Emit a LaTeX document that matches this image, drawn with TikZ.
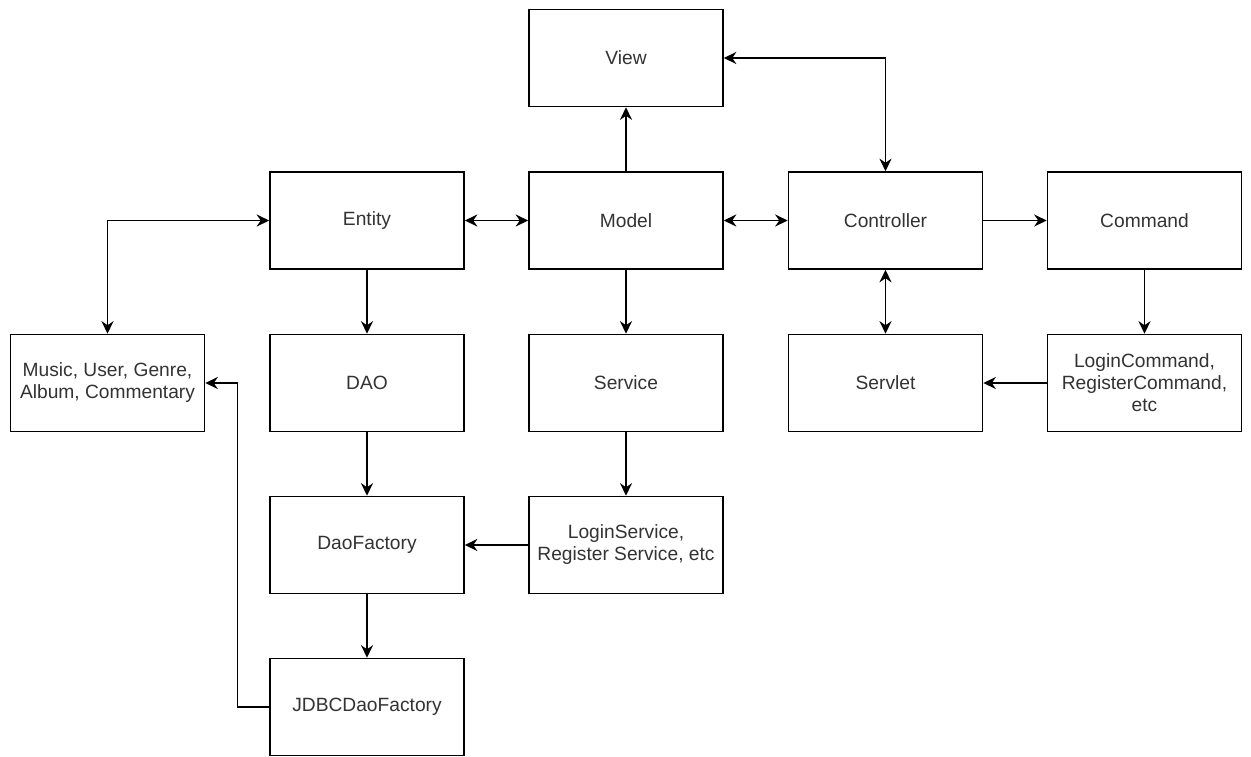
\documentclass[tikz,border=0pt]{standalone}
\usepackage{fontspec}
\setmainfont{Liberation Sans}
\usetikzlibrary{arrows.meta}
\begin{document}
\begin{tikzpicture}[x=1pt,y=-1pt,
  box/.style={draw=black, line width=1.6pt, fill=white, minimum width=194pt, minimum height=97pt,
    inner sep=2pt, align=center, text=black!80,
    font=\fontsize{19.2}{22}\selectfont},
  conn/.style={line width=1.7pt, draw=black},
  >={Stealth[length=12.5pt, width=12pt, inset=4pt]}]
\useasboundingbox (0,0) rectangle (1251,756);
\fill[white] (0,0) rectangle (1251,756);
% nodes
\node[box] (view)   at (626,58)      {View};
\node[box] (entity) at (367,220.5)   {Entity};
\node[box] (model)  at (626,220.5)   {Model};
\node[box] (ctrl)   at (885.5,220.5) {Controller};
\node[box] (cmd)    at (1144.5,220.5){Command};
\node[box] (music)  at (107.5,383)   {Music, User, Genre,\\Album, Commentary};
\node[box] (dao)    at (367,383)     {DAO};
\node[box] (serv)   at (626,383)     {Service};
\node[box] (servlet) at (885.5,383)  {Servlet};
\node[box] (logcmd) at (1144.5,383)  {LoginCommand,\\RegisterCommand,\\etc};
\node[box] (daof)   at (367,545)     {DaoFactory};
\node[box] (logserv) at (626,545)    {LoginService,\\Register Service, etc};
\node[box] (jdbc)   at (367,707)     {JDBCDaoFactory};
\coordinate (bend) at (237.5,707);
% connectors
\draw[conn,<->] (music.north) |- (entity.west);
\draw[conn,<->] (entity.east) -- (model.west);
\draw[conn,->] (model.north) -- (view.south);
\draw[conn,<->] (view.east) -| (ctrl.north);
\draw[conn,<->] (model.east) -- (ctrl.west);
\draw[conn,->] (ctrl.east) -- (cmd.west);
\draw[conn,->] (entity.south) -- (dao.north);
\draw[conn,->] (model.south) -- (serv.north);
\draw[conn,<->] (ctrl.south) -- (servlet.north);
\draw[conn,->] (cmd.south) -- (logcmd.north);
\draw[conn,->] (logcmd.west) -- (servlet.east);
\draw[conn,->] (dao.south) -- (daof.north);
\draw[conn,->] (serv.south) -- (logserv.north);
\draw[conn,->] (logserv.west) -- (daof.east);
\draw[conn,->] (daof.south) -- (jdbc.north);
\draw[conn,->] (jdbc.west) -- (bend) |- (music.east);
\end{tikzpicture}
\end{document}
